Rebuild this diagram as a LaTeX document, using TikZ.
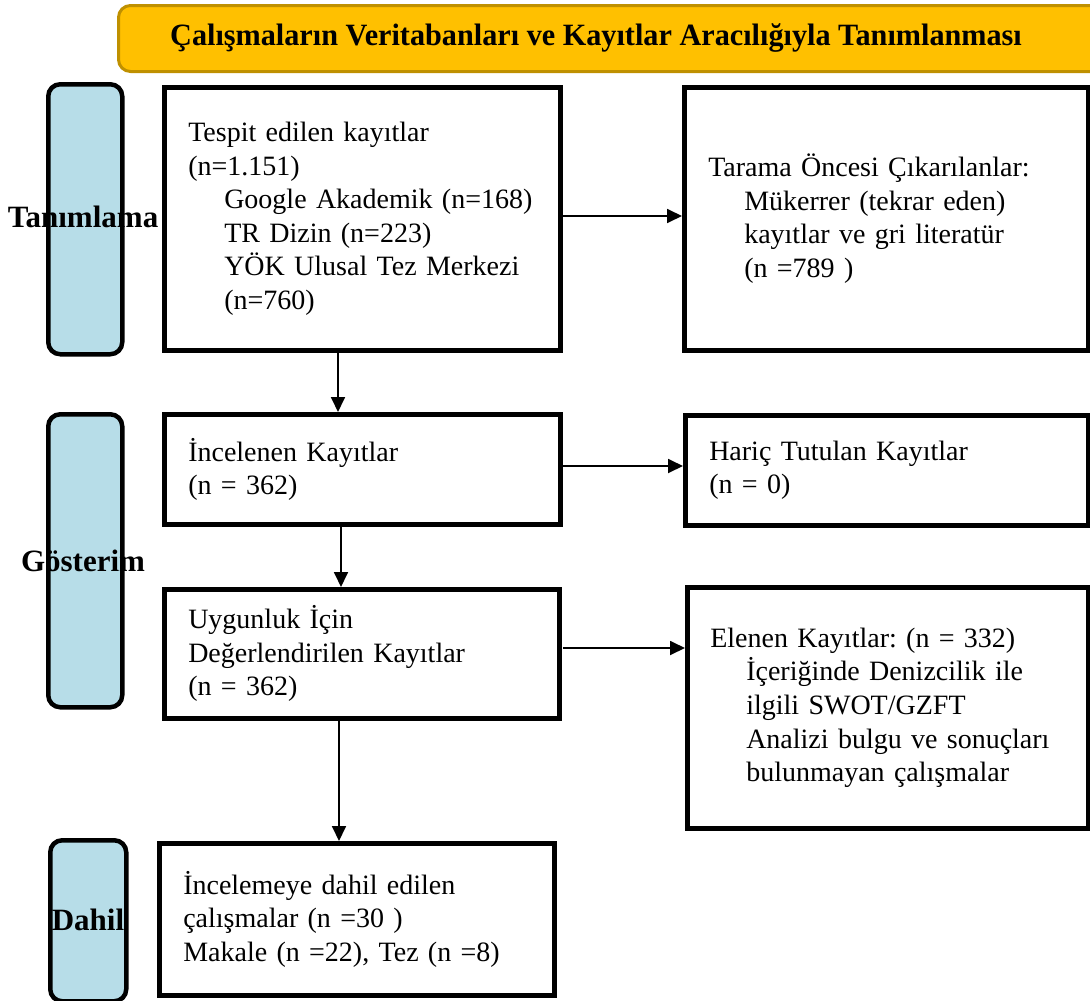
\documentclass[tikz,border=0pt]{standalone}
\usepackage{fontspec}
\setmainfont{Liberation Serif}
\usetikzlibrary{arrows.meta}
\definecolor{hdrfill}{HTML}{FFC000}
\definecolor{hdrline}{HTML}{BF9000}
\definecolor{barfill}{HTML}{B7DDE8}
\hfuzz=200pt
\hbadness=10000
\frenchspacing
\tikzset{
  box/.style={draw=black, line width=4.5pt, fill=white, rectangle, anchor=north west,
    align=left, inner xsep=0pt, inner ysep=0pt,
    font=\fontsize{28}{33.6}\selectfont},
  bar/.style={draw=black, line width=4.5pt, fill=barfill, rounded corners=12pt,
    anchor=north west, inner sep=0pt},
  barlabel/.style={font=\bfseries\fontsize{31}{34}\selectfont, inner sep=0pt},
  flow/.style={line width=1.8pt, -{Triangle[length=15pt,width=14pt]}},
}
\newcommand{\ind}{\hspace*{36pt}}
\newcommand{\oneline}[1]{\mbox{#1}}
\begin{document}
\begin{tikzpicture}[x=1pt,y=1pt]
\useasboundingbox (0,0) rectangle (1090,-1001);
% header
\node[draw=hdrline, line width=3pt, fill=hdrfill, rounded corners=12pt, anchor=north west,
  minimum width=1000pt, minimum height=66pt, inner sep=0pt] (hdr) at (117,-4) {};
\node[font=\bfseries\fontsize{31}{34}\selectfont, inner sep=0pt] (title) at (596,-38)
  {\scalebox{0.975}[1]{Çalışmaların Veritabanları ve Kayıtlar Aracılığıyla Tanımlanması}};
% side bars
\node[bar, minimum width=74pt, minimum height=270pt] (b1) at (46,-82) {};
\node[barlabel] (l1) at (83,-217) {Tanımlama};
\node[bar, minimum width=74pt, minimum height=293pt] (b2) at (46,-412) {};
\node[barlabel] (l2) at (83,-561) {Gösterim};
\node[bar, minimum width=76pt, minimum height=161pt] (b3) at (48,-838) {};
\node[barlabel] (l3) at (88,-920) {Dahil};
% boxes
\node[box, minimum width=396pt, minimum height=263pt, text width=348pt] (n1) at (162,-85)
  {Tespit edilen kayıtlar\\(n=1.151)\\\ind\oneline{Google Akademik (n=168)}\\\ind\oneline{TR Dizin (n=223)}\\\ind\oneline{YÖK Ulusal Tez Merkezi}\\\ind (n=760)};
\node[box, minimum width=404pt, minimum height=263pt, text width=356pt] (n2) at (682,-85)
  {\oneline{Tarama Öncesi Çıkarılanlar:}\\\ind\oneline{Mükerrer (tekrar eden)}\\\ind\oneline{kayıtlar ve gri literatür}\\\ind (n =789 )};
\node[box, minimum width=396pt, minimum height=110pt, text width=348pt] (n3) at (162,-412)
  {İncelenen Kayıtlar\\(n = 362)};
\node[box, minimum width=403pt, minimum height=110pt, text width=355pt] (n4) at (683,-413)
  {Hariç Tutulan Kayıtlar\\(n = 0)};
\node[box, minimum width=395pt, minimum height=129pt, text width=347pt] (n5) at (162,-587)
  {Uygunluk İçin\\\oneline{Değerlendirilen Kayıtlar}\\(n = 362)};
\node[box, minimum width=401pt, minimum height=241pt, text width=355pt] (n6) at (685,-585)
  {\oneline{Elenen Kayıtlar: (n = 332)}\\\ind\oneline{İçeriğinde Denizcilik ile}\\\ind\oneline{ilgili SWOT/GZFT}\\\ind\oneline{Analizi bulgu ve sonuçları}\\\ind\oneline{bulunmayan çalışmalar}};
\node[box, minimum width=395pt, minimum height=152pt, text width=347pt] (n7) at (157,-841)
  {İncelemeye dahil edilen\\çalışmalar (n =30 )\\\oneline{Makale (n =22), Tez (n =8)}};
% connectors
\draw[flow] (n1.east |- 0,-216) -- (n2.west |- 0,-216);
\draw[flow] (n3.east |- 0,-466) -- (n4.west |- 0,-466);
\draw[flow] (563,-648) coordinate (c5) -- (n6.west |- c5);
\draw[flow] (338,-348) coordinate (c1) -- (n3.north -| c1);
\draw[flow] (341,-522) coordinate (c3) -- (n5.north -| c3);
\draw[flow] (339,-716) coordinate (c6) -- (n7.north -| c6);
\end{tikzpicture}
\end{document}
